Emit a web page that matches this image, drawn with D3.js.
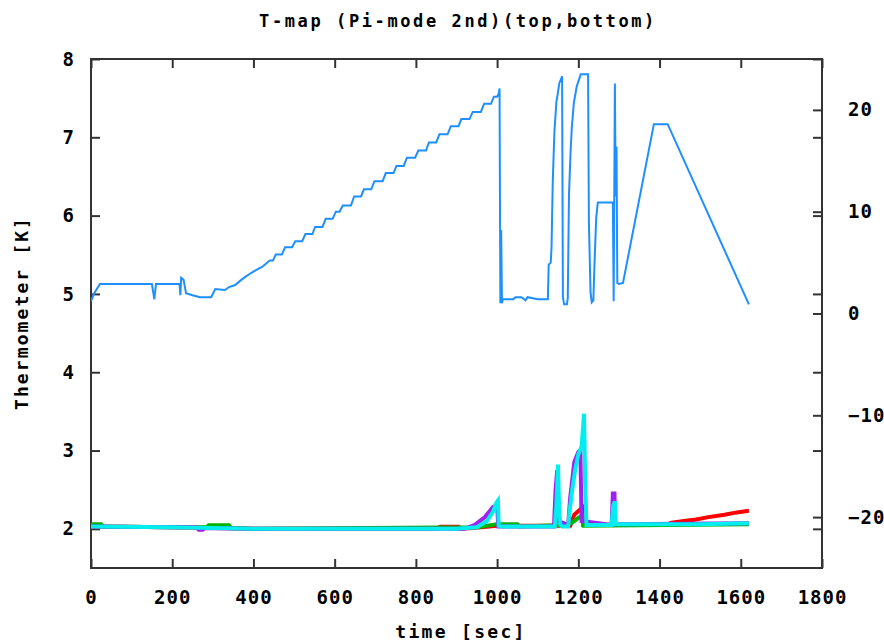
<!DOCTYPE html>
<html>
<head>
<meta charset="utf-8">
<script src="https://cdn.jsdelivr.net/npm/d3@7"></script>
<style>
  body { margin: 0; background: #fff; }
  svg text { font-family: "DejaVu Sans Mono", monospace; font-weight: bold; fill: #000; }
  .axis path { display: none; }
  .axis line { stroke: #333; stroke-width: 2; }
  .axis text { font-size: 19px; letter-spacing: 1px; }
</style>
</head>
<body>
<svg id="chart" width="884" height="643"></svg>
<script>
// T-map plot, gnuplot look: left axis = thermometers [K], right axis = probe signal

const xTicks = [0, 200, 400, 600, 800, 1000, 1200, 1400, 1600, 1800]
const yTicks = [2, 3, 4, 5, 6, 7, 8]
const y2Ticks = [-20, -10, 0, 10, 20]

// [time sec, value on right axis]
const probe = [
  [0, 1.2], [8, 2.0], [22, 2.9], [150, 2.9], [156, 1.4], [160, 2.9], [218, 2.9], [220, 1.8],
  [222, 3.5], [228, 3.3], [234, 2.0], [250, 1.8], [268, 1.6], [296, 1.6], [306, 2.4], [330, 2.3],
  [340, 2.6], [355, 2.8], [370, 3.3], [380, 3.6], [395, 4.0], [404, 4.2], [422, 4.6],
  [440, 5.2], [448, 5.2], [455, 5.8], [470, 5.8], [478, 6.5], [495, 6.5], [503, 7.1], [520, 7.1],
  [528, 7.8], [545, 7.8], [552, 8.5], [570, 8.5], [578, 9.3], [595, 9.3], [603, 10.0], [612, 10.0],
  [620, 10.6], [640, 10.6], [648, 11.5], [665, 11.5], [672, 12.2], [690, 12.2], [698, 13.0],
  [718, 13.0], [726, 13.8], [745, 13.8], [752, 14.5], [770, 14.5], [778, 15.3], [798, 15.3],
  [806, 16.0], [825, 16.0], [832, 16.8], [850, 16.8], [858, 17.6], [878, 17.6], [886, 18.4],
  [905, 18.4], [912, 19.1], [932, 19.1], [940, 19.8], [960, 19.8], [968, 20.6], [985, 20.6],
  [992, 21.3], [1000, 21.3], [1004, 21.6], [1006, 22.1],
  [1008, 1.0], [1010, 8.2], [1012, 1.0], [1014, 1.4], [1040, 1.4], [1045, 1.6], [1060, 1.6],
  [1070, 1.3], [1075, 1.6], [1100, 1.4], [1125, 1.4], [1127, 4.8], [1132, 5.0], [1134, 6.5],
  [1137, 12.9], [1141, 17.8], [1146, 20.8], [1149, 21.5], [1153, 22.6], [1158, 23.1], [1160, 23.3],
  [1162, 1.6], [1165, 0.9], [1172, 0.9], [1174, 1.5], [1177, 11.7], [1181, 16.0], [1184, 18.3],
  [1189, 20.7], [1196, 22.3], [1201, 22.9], [1206, 23.5], [1224, 23.5], [1226, 9.0], [1230, 2.1],
  [1233, 1.1], [1237, 1.3], [1240, 5.1], [1244, 9.4], [1248, 10.9], [1285, 10.9], [1287, 1.2],
  [1290, 22.6], [1292, 11.5], [1294, 16.4], [1296, 3.0], [1300, 2.9], [1310, 3.0],
  [1386, 18.6], [1420, 18.6], [1620, 0.9]
]

// [time sec, temperature K]
const thermoRed = [
  [0, 2.03], [200, 2.02], [400, 2.0], [850, 2.0], [860, 2.027], [905, 2.027], [910, 2.0],
  [960, 2.02], [1000, 2.04], [1180, 2.04], [1190, 2.18], [1205, 2.25],
  [1210, 2.27], [1212, 2.05], [1420, 2.06], [1430, 2.08], [1460, 2.1], [1490, 2.12],
  [1520, 2.15], [1560, 2.18], [1590, 2.21], [1620, 2.23]
]
const thermoGreen = [
  [0, 2.06], [25, 2.06], [30, 2.03], [200, 2.02], [285, 2.02], [290, 2.045], [340, 2.045],
  [345, 2.01], [400, 2.0], [950, 2.02], [1000, 2.06], [1050, 2.06], [1055, 2.03], [1165, 2.05],
  [1185, 2.08], [1200, 2.14], [1210, 2.16], [1213, 2.04], [1620, 2.06]
]
const thermoPurple = [
  [0, 2.03], [200, 2.02], [260, 2.02], [265, 1.99], [275, 1.99], [280, 2.01], [400, 2.0],
  [920, 2.0], [945, 2.05], [970, 2.15], [990, 2.28], [1000, 2.3], [1003, 2.03], [1140, 2.03],
  [1144, 2.5], [1148, 2.75], [1151, 2.1], [1175, 2.05], [1180, 2.4], [1190, 2.85], [1200, 2.98],
  [1205, 3.0], [1208, 2.1], [1282, 2.05], [1285, 2.45], [1289, 2.45], [1291, 2.06], [1620, 2.07]
]
const thermoCyan = [
  [0, 2.03], [200, 2.02], [400, 2.0], [900, 2.0], [950, 2.02], [975, 2.1], [990, 2.22],
  [998, 2.33], [1002, 2.36], [1004, 2.04], [1010, 2.03], [1142, 2.03], [1146, 2.3], [1150, 2.82],
  [1153, 2.2], [1156, 2.05], [1160, 2.03], [1175, 2.03], [1178, 2.2], [1185, 2.5], [1192, 2.75],
  [1200, 2.95], [1208, 3.05], [1214, 3.47], [1217, 2.6], [1220, 2.05], [1282, 2.05],
  [1286, 2.3], [1290, 2.35], [1292, 2.06], [1500, 2.06], [1620, 2.07]
]

const margin = { left: 91, top: 59, right: 62, bottom: 75 }
const width = 884 - margin.left - margin.right
const height = 643 - margin.top - margin.bottom

const svg = d3.select("#chart")
const g = svg.append("g").attr("transform", `translate(${margin.left},${margin.top})`)

const x = d3.scaleLinear().domain([0, 1800]).range([0, width])
const y = d3.scaleLinear().domain([1.5, 8]).range([height, 0])
const y2 = d3.scaleLinear().domain([-25, 25]).range([height, 0])
const fmt = d3.format("d")

// axes, ticks pointing inward like gnuplot
g.append("g").attr("class", "axis").attr("transform", `translate(0,${height})`)
  .call(d3.axisBottom(x).tickValues(xTicks).tickFormat(fmt).tickSize(-9).tickPadding(23))
g.append("g").attr("class", "axis")
  .call(d3.axisTop(x).tickValues(xTicks).tickSize(-9).tickFormat(""))
g.append("g").attr("class", "axis")
  .call(d3.axisLeft(y).tickValues(yTicks).tickFormat(fmt).tickSize(-9).tickPadding(16))
g.append("g").attr("class", "axis").attr("transform", `translate(${width},0)`)
  .call(d3.axisRight(y).tickValues(yTicks).tickSize(-9).tickFormat(""))
g.append("g").attr("class", "axis").attr("transform", `translate(${width},0)`)
  .call(d3.axisRight(y2).tickValues(y2Ticks).tickFormat(fmt).tickSize(-9).tickPadding(26))

g.append("rect")
  .attr("width", width).attr("height", height)
  .attr("fill", "none").attr("stroke", "#333").attr("stroke-width", 2)

const clip = svg.append("clipPath").attr("id", "plotclip")
clip.append("rect").attr("width", width).attr("height", height)
const plot = g.append("g").attr("clip-path", "url(#plotclip)")

const lineY2 = d3.line().x((d) => x(d[0])).y((d) => y2(d[1]))
const lineY = d3.line().x((d) => x(d[0])).y((d) => y(d[1]))

plot.append("path").datum(probe)
  .attr("d", lineY2).attr("fill", "none")
  .attr("stroke", "#1e8fff").attr("stroke-width", 2)

const thermos = [
  { data: thermoRed, color: "#ff0000" },
  { data: thermoGreen, color: "#00b400" },
  { data: thermoPurple, color: "#a020f0" },
  { data: thermoCyan, color: "#00eeee" }
]
plot.selectAll(".thermo").data(thermos).join("path")
  .attr("class", "thermo")
  .attr("d", (d) => lineY(d.data)).attr("fill", "none")
  .attr("stroke", (d) => d.color).attr("stroke-width", 4)

svg.append("text")
  .attr("x", 458).attr("y", 27).attr("text-anchor", "middle")
  .style("font-size", "17px").style("letter-spacing", "2.6px")
  .text("T-map (Pi-mode 2nd)(top,bottom)")

svg.append("text")
  .attr("x", 461).attr("y", 638).attr("text-anchor", "middle")
  .style("font-size", "18px").style("letter-spacing", "2.3px")
  .text("time [sec]")

svg.append("text")
  .attr("transform", "translate(28,313) rotate(-90)").attr("text-anchor", "middle")
  .style("font-size", "18px").style("letter-spacing", "2.1px")
  .text("Thermometer  [K]")
</script>
</body>
</html>
